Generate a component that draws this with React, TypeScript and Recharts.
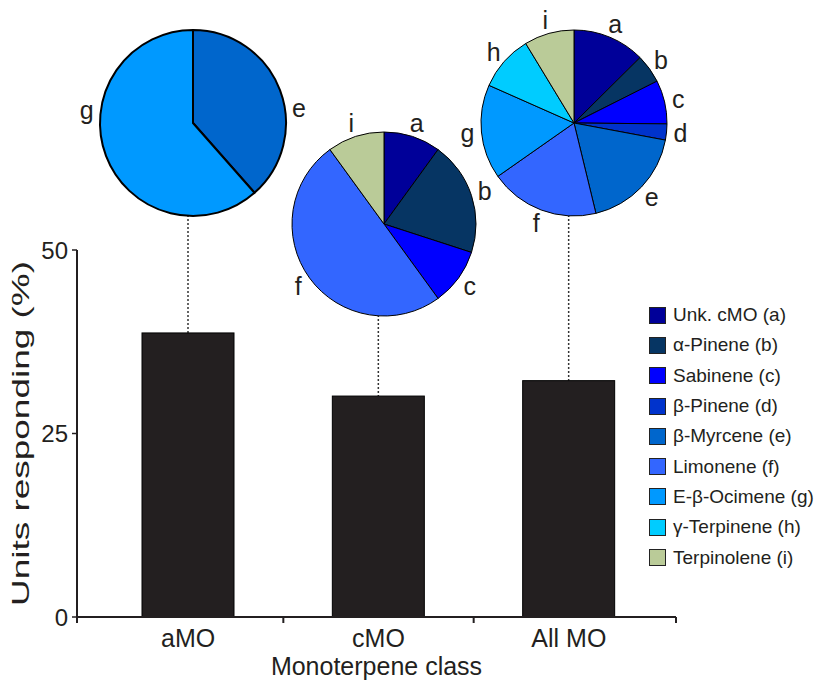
import React from "react";
import { Bar, BarChart, Cell, Pie, PieChart, XAxis, YAxis } from "recharts";

// bar values (% of units responding)
const CLASSES = ["aMO", "cMO", "All MO"];
const RESPONDING = [38.7, 30.1, 32.2];
const Y_TICKS = [0, 25, 50];

// compounds shown in the pies / legend
const CODES = ["a", "b", "c", "d", "e", "f", "g", "h", "i"];
const COMPOUNDS = [
  "Unk. cMO",
  "α-Pinene",
  "Sabinene",
  "β-Pinene",
  "β-Myrcene",
  "Limonene",
  "E-β-Ocimene",
  "γ-Terpinene",
  "Terpinolene",
];
const COLORS = ["#000099", "#063563", "#0000ff", "#0033cc", "#0066cc", "#3366ff", "#0099ff", "#00ccff", "#bacb98"];

// pie shares (%) per class
const AMO_CODES = ["e", "g"];
const AMO_SHARES = [38.5, 61.5];
const CMO_CODES = ["a", "b", "c", "f", "i"];
const CMO_SHARES = [10, 20, 10, 50, 10];
const ALL_CODES = ["a", "b", "c", "d", "e", "f", "g", "h", "i"];
const ALL_SHARES = [12.6, 5.0, 7.6, 2.8, 18.3, 19.1, 16.4, 9.7, 8.7];

const W = 819;
const H = 689;
const PLOT = { left: 77, right: 676, top: 250, bottom: 617 };
const PAD_L = 16;
const PAD_R = 12;
const BAND = (PLOT.right - PLOT.left - PAD_L - PAD_R) / CLASSES.length;
const INK = "#231f20";
const FONT = "'Liberation Sans', Arial, Helvetica, sans-serif";

const PIES = [
  { codes: AMO_CODES, shares: AMO_SHARES, cy: 118, r: 93, stroke: 2, labelAngle: { e: 82, g: 277 } as Record<string, number> },
  { codes: CMO_CODES, shares: CMO_SHARES, cy: 219, r: 92, stroke: 1, labelAngle: {} as Record<string, number> },
  { codes: ALL_CODES, shares: ALL_SHARES, cy: 118, r: 93, stroke: 1, labelAngle: {} as Record<string, number> },
];

const barData = CLASSES.map((name, i) => ({ name, value: RESPONDING[i] }));

function StemBar(props: any) {
  const { x, y, width, height, index } = props;
  const mid = x + width / 2;
  const pie = PIES[index];
  return (
    <g>
      <line x1={mid} x2={mid} y1={pie.cy + pie.r} y2={y} stroke="#333" strokeWidth={1.5} strokeDasharray="2 2" />
      <rect x={x} y={y} width={width} height={height} fill={INK} stroke="#000" strokeWidth={1} />
    </g>
  );
}

function ClassTick(props: any) {
  const { x, payload, index } = props;
  const left = index === 0 ? PLOT.left : x - BAND / 2;
  const last = index === CLASSES.length - 1;
  return (
    <g>
      <line x1={left} x2={left} y1={PLOT.bottom} y2={PLOT.bottom + 6} stroke={INK} strokeWidth={2} />
      {last && <line x1={PLOT.right} x2={PLOT.right} y1={PLOT.bottom} y2={PLOT.bottom + 6} stroke={INK} strokeWidth={2} />}
      <text x={x} y={PLOT.bottom + 30} textAnchor="middle" fontSize={25} fill={INK} fontFamily={FONT}>
        {payload.value}
      </text>
    </g>
  );
}

function PieBlock({ idx }: { idx: number }) {
  const pie = PIES[idx];
  const size = 270;
  const cxPage = PLOT.left + PAD_L + BAND * (idx + 0.5);
  const data = pie.codes.map((code, i) => ({ code, value: pie.shares[i] }));
  const renderLabel = (p: any) => {
    const code = pie.codes[p.index];
    const clockwise = pie.labelAngle[code] ?? 90 - p.midAngle;
    const rad = (clockwise * Math.PI) / 180;
    const R = pie.r + 14;
    return (
      <text
        x={p.cx + R * Math.sin(rad)}
        y={p.cy - R * Math.cos(rad)}
        textAnchor="middle"
        dominantBaseline="central"
        fontSize={25}
        fill={INK}
        fontFamily={FONT}
      >
        {code}
      </text>
    );
  };
  return (
    <div style={{ position: "absolute", left: cxPage - size / 2, top: pie.cy - size / 2 }}>
      <PieChart width={size} height={size}>
        <Pie
          data={data}
          dataKey="value"
          cx={size / 2}
          cy={size / 2}
          outerRadius={pie.r}
          startAngle={90}
          endAngle={-270}
          stroke="#000"
          strokeWidth={pie.stroke}
          label={renderLabel}
          labelLine={false}
          isAnimationActive={false}
        >
          {data.map((d) => (
            <Cell key={d.code} fill={COLORS[CODES.indexOf(d.code)]} />
          ))}
        </Pie>
      </PieChart>
    </div>
  );
}

export default function App() {
  return (
    <div style={{ position: "absolute", left: 0, top: 0, width: W, height: H, background: "#fff", fontFamily: FONT }}>
      <BarChart
        width={W}
        height={H}
        data={barData}
        margin={{ top: PLOT.top, right: W - PLOT.right, bottom: H - PLOT.bottom - 70, left: 0 }}
      >
        <XAxis
          dataKey="name"
          height={70}
          padding={{ left: PAD_L, right: PAD_R }}
          axisLine={{ stroke: INK, strokeWidth: 2 }}
          tickLine={false}
          tick={<ClassTick />}
          interval={0}
          label={{
            value: "Monoterpene class",
            position: "insideBottom",
            offset: 12,
            fontSize: 25,
            fill: INK,
            fontFamily: FONT,
          }}
        />
        <YAxis
          domain={[0, 50]}
          ticks={Y_TICKS}
          width={PLOT.left}
          axisLine={{ stroke: INK, strokeWidth: 2 }}
          tickLine={{ stroke: INK, strokeWidth: 1.5 }}
          tickSize={5}
          tickMargin={4}
          tick={{ fontSize: 24, fill: INK, fontFamily: FONT }}
          label={{
            content: (p: any) => {
              const vb = p.viewBox;
              const cx = vb.x + 20;
              const cy = vb.y + vb.height / 2;
              return (
                <text
                  x={cx}
                  y={cy}
                  transform={`rotate(-90, ${cx}, ${cy})`}
                  textAnchor="middle"
                  dominantBaseline="central"
                  fontSize={24}
                  fill={INK}
                  fontFamily={FONT}
                  textLength={345}
                  lengthAdjust="spacingAndGlyphs"
                >
                  Units responding (%)
                </text>
              );
            },
          }}
        />
        <Bar dataKey="value" barSize={92} shape={<StemBar />} isAnimationActive={false} />
      </BarChart>
      {PIES.map((_, i) => (
        <PieBlock key={i} idx={i} />
      ))}
      <div style={{ position: "absolute", left: 649, top: 300 }}>
        {COMPOUNDS.map((name, i) => (
          <div key={name} style={{ height: 30.3, display: "flex", alignItems: "center" }}>
            <span
              style={{
                width: 15,
                height: 15,
                background: COLORS[i],
                border: "1.5px solid #222",
                marginRight: 7,
                display: "inline-block",
              }}
            />
            <span style={{ fontSize: 19, color: INK }}>
              {name} ({CODES[i]})
            </span>
          </div>
        ))}
      </div>
    </div>
  );
}
